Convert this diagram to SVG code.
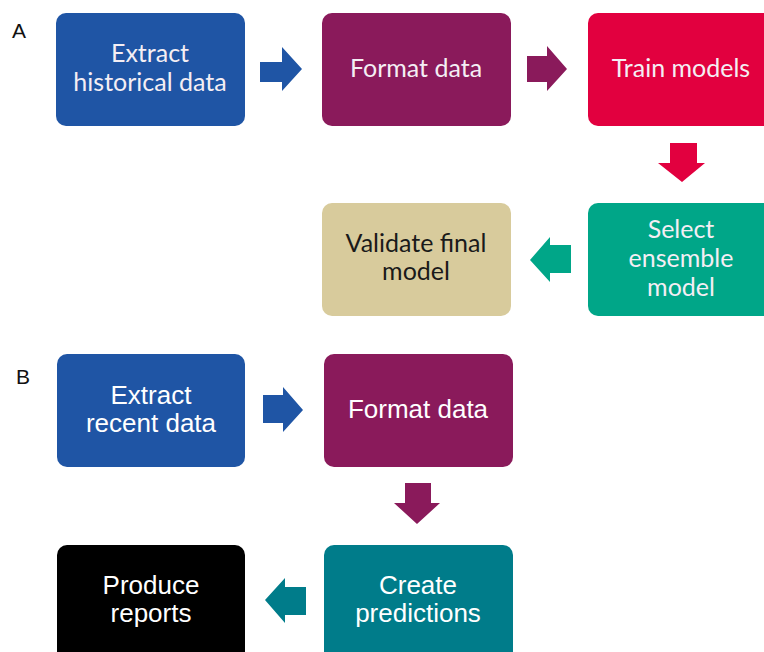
<svg xmlns="http://www.w3.org/2000/svg" width="764" height="652" viewBox="0 0 764 652">
<style>
.a{font-family:Lato,"Liberation Sans",sans-serif;font-size:25px;text-anchor:middle;fill:#f4eef4}
.b{font-family:"Liberation Sans",Arial,sans-serif;font-size:26px;text-anchor:middle;fill:#ffffff}
.lbl{font-family:"Liberation Sans",Arial,sans-serif;font-size:21px;fill:#111}
</style>
<rect width="764" height="652" fill="#ffffff"/>
<text class="lbl" x="12" y="38">A</text>
<text class="lbl" x="16" y="384">B</text>
<g id="a1"><rect x="56" y="13" width="189" height="113" rx="10" fill="#1F55A5"/><text class="a" x="150" y="62">Extract</text><text class="a" x="150" y="91">historical data</text></g>
<g id="a2"><rect x="322" y="13" width="189" height="113" rx="10" fill="#8A1A5B"/><text class="a" x="416" y="77">Format data</text></g>
<g id="a3"><rect x="588" y="13" width="189" height="113" rx="10" fill="#E2003F"/><text class="a" x="681" y="77">Train models</text></g>
<g id="a4"><rect x="588" y="203" width="189" height="113" rx="10" fill="#00A688"/><text class="a" x="681" y="238">Select</text><text class="a" x="681" y="267">ensemble</text><text class="a" x="681" y="296">model</text></g>
<g id="a5"><rect x="322" y="203" width="189" height="113" rx="10" fill="#D8CB9C"/><text class="a" x="416" y="252" style="fill:#1a1a1a">Validate final</text><text class="a" x="416" y="280" style="fill:#1a1a1a">model</text></g>
<g id="b1"><rect x="57" y="354" width="188" height="113" rx="10" fill="#1F55A5"/><text class="b" x="151" y="404">Extract</text><text class="b" x="151" y="432">recent data</text></g>
<g id="b2"><rect x="324" y="354" width="189" height="113" rx="10" fill="#8A1A5B"/><text class="b" x="418" y="418">Format data</text></g>
<g id="b4"><rect x="324" y="545" width="189" height="120" rx="10" fill="#007C8A"/><text class="b" x="418" y="594">Create</text><text class="b" x="418" y="622">predictions</text></g>
<g id="b3"><rect x="57" y="545" width="188" height="120" rx="10" fill="#000000"/><text class="b" x="151" y="594">Produce</text><text class="b" x="151" y="622">reports</text></g>
<g id="connectors">
<polygon points="260,62 282,62 282,47 302,69 282,91 282,82 260,82" fill="#1F55A5"/>
<polygon points="527,56 547,56 547,46 567,69 547,91 547,82 527,82" fill="#8A1A5B"/>
<polygon points="670,143 697,143 697,163 705,163 682,182 658,163 670,163" fill="#E2003F"/>
<polygon points="571,245 550,245 550,237 530,260 550,282 550,273 571,273" fill="#00A688"/>
<polygon points="263,395 283,395 283,387 303,410 283,432 283,423 263,423" fill="#1F55A5"/>
<polygon points="405,483 431,483 431,503 440,503 417,524 394,503 405,503" fill="#8A1A5B"/>
<polygon points="306,587 285,587 285,578 265,600 285,623 285,615 306,615" fill="#007C8A"/>
</g>
</svg>
